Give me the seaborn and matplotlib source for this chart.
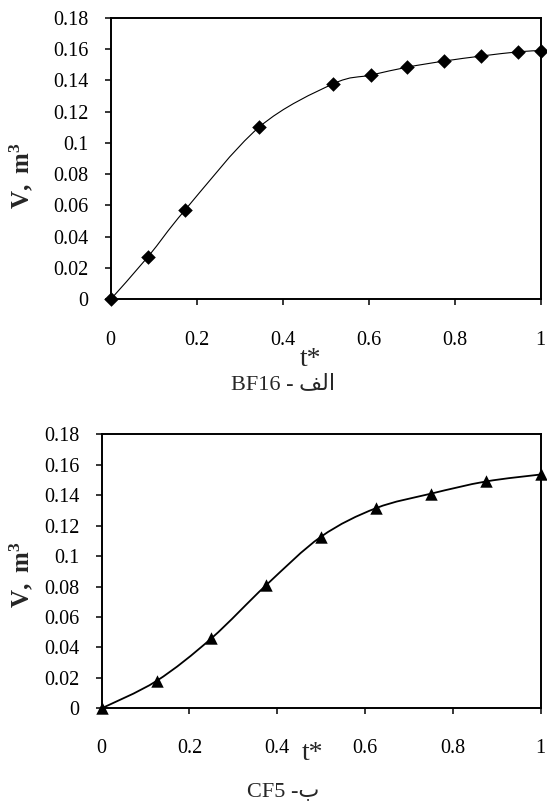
import numpy as np
import seaborn as sns
import matplotlib
matplotlib.use('Agg')
import matplotlib.pyplot as plt
from matplotlib.path import Path
from matplotlib.patches import PathPatch
from matplotlib.ticker import FuncFormatter

sns.set_style("ticks")
plt.rcParams['font.family'] = ['Liberation Serif', 'DejaVu Sans']
plt.rcParams['mathtext.fontset'] = 'custom'
plt.rcParams['mathtext.rm'] = 'Liberation Serif'
plt.rcParams['mathtext.bf'] = 'Liberation Serif:bold'

# ------------------------------- Datos
t_bf16 = [0, 0.087, 0.172, 0.345, 0.517, 0.605, 0.69, 0.776, 0.862, 0.948, 1.0]
v_bf16 = [0, 0.0273, 0.0568, 0.110, 0.1377, 0.1433, 0.1484, 0.1523, 0.1555, 0.1582, 0.159]

t_cf5 = [0, 0.125, 0.25, 0.375, 0.5, 0.625, 0.75, 0.875, 1.0]
v_cf5 = [0, 0.018, 0.046, 0.081, 0.1128, 0.1315, 0.141, 0.149, 0.1536]

x_ticks = [0, 0.2, 0.4, 0.6, 0.8, 1]
y_ticks = [0, 0.02, 0.04, 0.06, 0.08, 0.1, 0.12, 0.14, 0.16, 0.18]

# etiquetas (arabe en formas de presentacion, orden visual)
caption_top = "BF16 - " + "\uFED2\uFEDF\uFE8D"
caption_bottom = "CF5 -" + "\uFE8F"


def curva_suave(x, y):
    # curva tipo Excel: Bezier cubica entre puntos consecutivos
    pts = np.column_stack([x, y])
    n = len(pts)
    verts = [pts[0]]
    codes = [Path.MOVETO]
    for i in range(n - 1):
        p0 = pts[max(i - 1, 0)]
        p1 = pts[i]
        p2 = pts[i + 1]
        p3 = pts[min(i + 2, n - 1)]
        verts += [p1 + (p2 - p0) / 6, p2 - (p3 - p1) / 6, p2]
        codes += [Path.CURVE4] * 3
    return Path(verts, codes)


def panel(ax, t, v, marker, ms, lw, xpad, xlab_pos, ylab_pos):
    ax.add_patch(PathPatch(curva_suave(t, v), facecolor='none', edgecolor='black', lw=lw, zorder=2))
    sns.scatterplot(x=t, y=v, marker=marker, s=ms, color='black', edgecolor='black',
                    linewidth=0, ax=ax, zorder=3, clip_on=False)
    ax.set_xlim(0, 1)
    ax.set_ylim(0, 0.18)
    ax.set_xticks(x_ticks)
    ax.set_yticks(y_ticks)
    fmt = FuncFormatter(lambda val, _: f'{val:g}')
    ax.xaxis.set_major_formatter(fmt)
    ax.yaxis.set_major_formatter(fmt)
    ax.tick_params(axis='x', direction='out', length=4.5, width=1.1, pad=xpad, labelsize=14.5, colors='black')
    ax.tick_params(axis='y', direction='out', length=4.5, width=1.1, pad=11.5, labelsize=14.5, colors='black')
    for sp in ax.spines.values():
        sp.set_linewidth(1.4)
        sp.set_color('black')
    ax.set_xlabel('t*', fontsize=20)
    ax.xaxis.set_label_coords(*xlab_pos)
    ax.set_ylabel(r'$\mathbf{V,}$ $\mathbf{m^3}$', fontsize=18)
    ax.yaxis.set_label_coords(*ylab_pos)


fig = plt.figure(figsize=(5.47, 8.01), dpi=100)
ax1 = fig.add_axes([0.2024, 0.6263, 0.7861, 0.3516])
ax2 = fig.add_axes([0.1859, 0.1157, 0.8026, 0.3421])

panel(ax1, t_bf16, v_bf16, 'D', 55, 0.8, 18.5, (0.465, -0.17), (-0.176, 0.44))
panel(ax2, t_cf5, v_cf5, '^', 80, 1.3, 17.5, (0.481, -0.12), (-0.152, 0.486))

fig.text(0.518, 0.5194, caption_top, ha='center', va='center', fontsize=16)
fig.text(0.517, 0.0112, caption_bottom, ha='center', va='center', fontsize=16)

plt.savefig('out.png', dpi=100)
plt.close()
